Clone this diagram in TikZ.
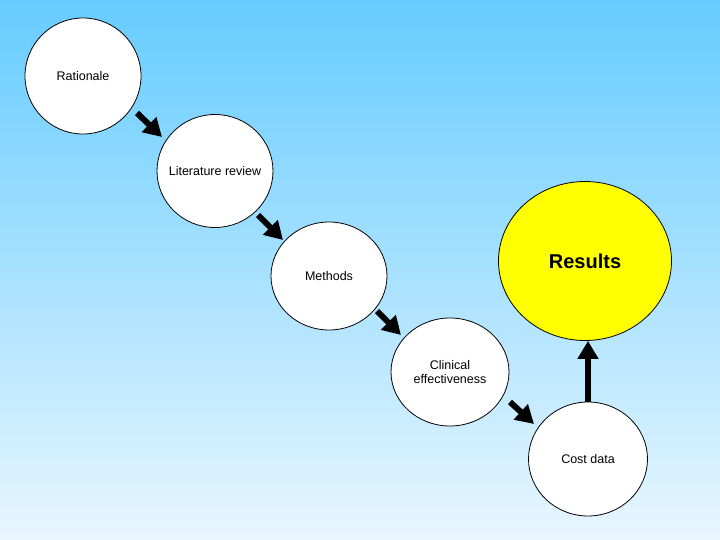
\documentclass[tikz,border=0pt]{standalone}
\usepackage{fontspec}
\setmainfont{Liberation Sans}
\usepackage{tikz}
\usetikzlibrary{arrows.meta,shapes.geometric,positioning,calc}
\definecolor{skyTop}{HTML}{66CCFF}
\definecolor{skyBot}{HTML}{E8F6FF}
\definecolor{resYellow}{HTML}{FFFF00}

\begin{document}
\begin{tikzpicture}[x=1pt,y=-1pt,line join=round,
    font=\fontsize{12.5}{14}\selectfont,
    stage/.style={ellipse,draw=black,line width=0.8pt,fill=white,
                  inner sep=0pt},
    stagetext/.style={align=center,inner sep=0pt},
    flow/.style={line width=6pt,
                 -{Triangle[width=20pt,length=18pt]}}]
    % sky gradient background
    \shade[top color=skyTop,bottom color=skyBot] (0,0) rectangle (720,540);
    \useasboundingbox (0,0) rectangle (720,540);
    % stages (text set as a centred label so the outline keeps its size)
    \node[stage,minimum width=116pt,minimum height=116pt,
          label={[stagetext]center:Rationale}] (rat) at (83,76) {};
    \node[stage,minimum width=116pt,minimum height=113pt,
          label={[stagetext]center:Literature review}] (lit) at (215,171) {};
    \node[stage,minimum width=116pt,minimum height=108pt,
          label={[stagetext]center:Methods}] (meth) at (329,276) {};
    \node[stage,minimum width=118pt,minimum height=108pt,
          label={[stagetext]center:Clinical\\effectiveness}] (clin) at (450,372) {};
    \node[stage,minimum width=119pt,minimum height=114pt,
          label={[stagetext]center:Cost data}] (cost) at (588,459) {};
    \node[stage,fill=resYellow,minimum width=173pt,minimum height=159pt,
          label={[stagetext,font=\fontsize{20}{22}\selectfont\bfseries]center:Results}]
          (res) at (585,261) {};
    % arrows between stages
    \draw[flow] ($(rat)+(54,37)$) -- ($(lit)+(-53,-34)$);
    \draw[flow] ($(lit)+(43,44)$) -- ($(meth)+(-46,-36)$);
    \draw[flow] ($(meth)+(48,35)$) -- ($(clin)+(-49,-37)$);
    \draw[flow] ($(clin)+(60,30)$) -- ($(cost)+(-54,-35)$);
    \draw[flow] (cost.north) -- (cost.north |- res.south);
  \end{tikzpicture}
\end{document}
